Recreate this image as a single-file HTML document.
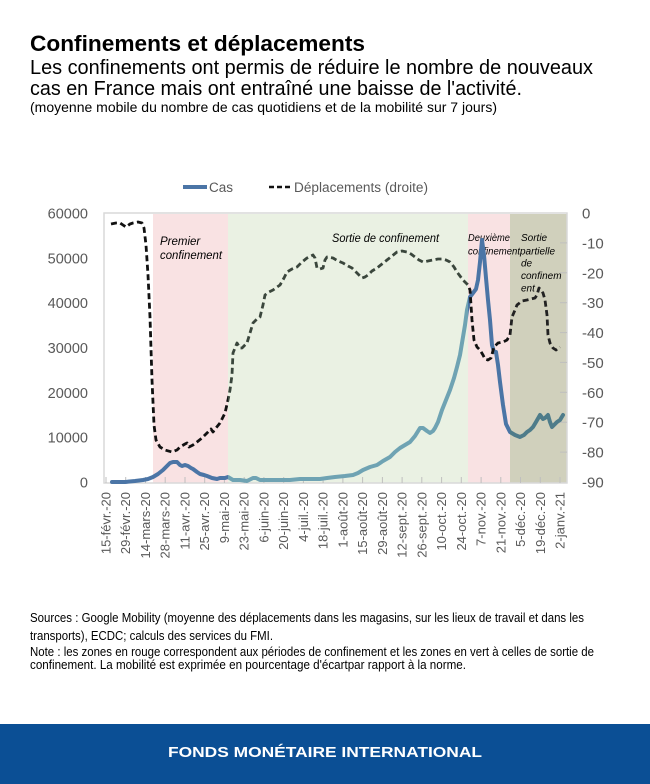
<!DOCTYPE html>
<html>
<head>
<meta charset="utf-8">
<style>
  html,body{margin:0;padding:0;background:#fff;}
  svg{display:block;}
  text{font-family:"Liberation Sans", sans-serif;}
</style>
</head>
<body>
<svg width="650" height="784" viewBox="0 0 650 784" xmlns="http://www.w3.org/2000/svg">
  <defs>
    <clipPath id="cA"><rect x="0" y="200" width="228" height="300"/><rect x="468" y="200" width="42" height="300"/></clipPath>
    <clipPath id="cG"><rect x="228" y="200" width="240" height="300"/></clipPath>
    <clipPath id="cY"><rect x="510" y="200" width="140" height="300"/></clipPath>
    <path id="casPath" d="M112,482 L125,482 L135,481 L143,480 L148,479 L153,477 L158,474 L163,470 L167,466 L170,463 L173,462 L177,462 L180,465 L182,466 L185,465 L188,466 L191,468 L193,469 L197,472 L200,474 L204,475 L207,476 L212,478 L217,479 L220,478 L225,478 L228,477 L233,480 L240,480 L247,481 L253,478 L256,478 L260,480 L270,480 L280,480 L290,480 L300,479 L310,479 L320,479 L327,478 L335,477 L345,476 L353,475 L358,473 L363,470 L370,467 L377,465 L383,461 L390,457 L395,452 L400,448 L405,445 L410,442 L415,436 L420,428 L423,428 L427,431 L430,433 L433,431 L435,428 L438,422 L442,410 L446,400 L450,390 L454,378 L457,367 L460,355 L462,343 L465,325 L467,310 L470,297 L473,293 L476,289 L478,280 L480,262 L482,240 L484,255 L486,278 L488,300 L490,320 L492,345 L494,352 L496,352 L498,365 L500,382 L503,405 L506,424 L510,432 L515,435 L520,437 L524,435 L527,432 L530,430 L533,427 L536,422 L540,415 L543,419 L545,418 L548,415 L550,422 L552,427 L555,424 L557,422 L560,420 L563,415"/>
    <path id="mobPath" d="M111,224 L116,223 L120,223 L123,225 L126,227 L130,224 L133,223 L138,222 L142,223 L144,228 L146,245 L148,275 L150,317 L152,380 L154,425 L156,440 L160,447 L165,450 L172,452 L177,450 L180,447 L185,444 L187,443 L189,447 L193,445 L197,442 L202,438 L207,433 L211,429 L213,432 L216,428 L220,423 L225,413 L228,400 L230,390 L232,375 L233,353 L237,343 L240,348 L242,348 L247,343 L250,333 L253,323 L257,319 L260,317 L263,305 L265,295 L269,292 L273,290 L280,285 L284,278 L287,272 L292,269 L297,267 L302,262 L307,258 L313,255 L315,258 L317,268 L320,269 L323,268 L325,260 L327,257 L333,258 L338,261 L343,263 L348,266 L352,268 L357,273 L362,278 L365,277 L368,275 L372,271 L377,268 L382,264 L387,260 L392,256 L397,252 L402,251 L407,252 L411,254 L415,257 L419,260 L423,262 L428,261 L433,260 L438,259 L442,259 L446,260 L450,262 L454,267 L457,272 L460,276 L463,280 L466,283 L468,285 L470,290 L471,305 L472,320 L474,340 L477,347 L480,350 L483,355 L485,359 L488,360 L491,358 L494,347 L498,343 L503,342 L507,340 L510,335 L512,317 L515,310 L517,305 L522,301 L527,300 L531,299 L535,298 L537,295 L539,288 L541,290 L543,293 L545,300 L547,315 L548,335 L550,343 L553,348 L556,350 L560,347"/>
  </defs>

  <!-- Titles -->
  <text x="30" y="51" font-size="22.5" font-weight="bold" fill="#000" textLength="335" lengthAdjust="spacingAndGlyphs">Confinements et déplacements</text>
  <text x="30" y="74" font-size="20" fill="#000" textLength="563" lengthAdjust="spacingAndGlyphs">Les confinements ont permis de réduire le nombre de nouveaux</text>
  <text x="30" y="95" font-size="20" fill="#000" textLength="492" lengthAdjust="spacingAndGlyphs">cas en France mais ont entraîné une baisse de l'activité.</text>
  <text x="30" y="112" font-size="14" fill="#000" textLength="467" lengthAdjust="spacingAndGlyphs">(moyenne mobile du nombre de cas quotidiens et de la mobilité sur 7 jours)</text>

  <!-- Legend -->
  <line x1="183" y1="187" x2="207" y2="187" stroke="#4b75a6" stroke-width="4"/>
  <text x="209" y="192" font-size="13.5" fill="#595959">Cas</text>
  <line x1="269" y1="187" x2="293" y2="187" stroke="#111" stroke-width="2.6" stroke-dasharray="5 3"/>
  <text x="294" y="192" font-size="13.5" fill="#595959" textLength="134" lengthAdjust="spacingAndGlyphs">Déplacements (droite)</text>

  <!-- Shaded regions -->
  <rect x="153" y="214" width="75" height="269" fill="#f9e2e3"/>
  <rect x="228" y="214" width="240" height="269" fill="#eaf1e3"/>
  <rect x="468" y="214" width="42" height="269" fill="#f9e2e3"/>
  <rect x="510" y="214" width="57" height="269" fill="#d0d0bc"/>

  <!-- Plot border -->
  <rect x="104" y="213" width="463" height="270" fill="none" stroke="#d9d9d9" stroke-width="1.5"/>

  <!-- Right axis ticks -->
  <g stroke="#bfbfbf" stroke-width="1">
    <line x1="560" y1="242.9" x2="567" y2="242.9"/>
    <line x1="560" y1="272.8" x2="567" y2="272.8"/>
    <line x1="560" y1="302.7" x2="567" y2="302.7"/>
    <line x1="560" y1="332.6" x2="567" y2="332.6"/>
    <line x1="560" y1="362.4" x2="567" y2="362.4"/>
    <line x1="560" y1="392.3" x2="567" y2="392.3"/>
    <line x1="560" y1="422.2" x2="567" y2="422.2"/>
    <line x1="560" y1="452.1" x2="567" y2="452.1"/>
  </g>

  <!-- X ticks -->
  <g stroke="#bfbfbf" stroke-width="1">
    <line x1="106" y1="477" x2="106" y2="483"/><line x1="125.7" y1="477" x2="125.7" y2="483"/>
    <line x1="145.5" y1="477" x2="145.5" y2="483"/><line x1="165.2" y1="477" x2="165.2" y2="483"/>
    <line x1="185" y1="477" x2="185" y2="483"/><line x1="204.7" y1="477" x2="204.7" y2="483"/>
    <line x1="224.4" y1="477" x2="224.4" y2="483"/><line x1="244.2" y1="477" x2="244.2" y2="483"/>
    <line x1="263.9" y1="477" x2="263.9" y2="483"/><line x1="283.7" y1="477" x2="283.7" y2="483"/>
    <line x1="303.4" y1="477" x2="303.4" y2="483"/><line x1="323.1" y1="477" x2="323.1" y2="483"/>
    <line x1="342.9" y1="477" x2="342.9" y2="483"/><line x1="362.6" y1="477" x2="362.6" y2="483"/>
    <line x1="382.4" y1="477" x2="382.4" y2="483"/><line x1="402.1" y1="477" x2="402.1" y2="483"/>
    <line x1="421.8" y1="477" x2="421.8" y2="483"/><line x1="441.6" y1="477" x2="441.6" y2="483"/>
    <line x1="461.3" y1="477" x2="461.3" y2="483"/><line x1="481.1" y1="477" x2="481.1" y2="483"/>
    <line x1="500.8" y1="477" x2="500.8" y2="483"/><line x1="520.5" y1="477" x2="520.5" y2="483"/>
    <line x1="540.3" y1="477" x2="540.3" y2="483"/><line x1="560" y1="477" x2="560" y2="483"/>
  </g>

  <!-- Annotations -->
  <g font-style="italic" fill="#000">
    <text x="160" y="245" font-size="11.5">Premier</text>
    <text x="160" y="259" font-size="11.5" textLength="62" lengthAdjust="spacingAndGlyphs">confinement</text>
    <text x="332" y="242" font-size="11.5" textLength="107" lengthAdjust="spacingAndGlyphs">Sortie de confinement</text>
    <text x="468" y="241" font-size="10" textLength="42" lengthAdjust="spacingAndGlyphs">Deuxième</text>
    <text x="468" y="254.5" font-size="10" textLength="52" lengthAdjust="spacingAndGlyphs">confinement</text>
    <text x="521" y="241" font-size="10">Sortie</text>
    <text x="520" y="254.5" font-size="10">partielle</text>
    <text x="521" y="266.5" font-size="10">de</text>
    <text x="521" y="279" font-size="10">confinem</text>
    <text x="521" y="291.5" font-size="10">ent</text>
  </g>

  <!-- Series: Cas -->
  <g fill="none" stroke-width="4" stroke-linejoin="round" stroke-linecap="round">
    <g clip-path="url(#cA)"><use href="#casPath" stroke="#4b75a6"/></g>
    <g clip-path="url(#cG)"><use href="#casPath" stroke="#6fa3b3"/></g>
    <g clip-path="url(#cY)"><use href="#casPath" stroke="#4e7c8a"/></g>
  </g>

  <!-- Series: Déplacements -->
  <g fill="none" stroke-width="2.8" stroke-dasharray="6 3.5" stroke-linejoin="round">
    <g clip-path="url(#cA)"><use href="#mobPath" stroke="#111"/></g>
    <g clip-path="url(#cG)"><use href="#mobPath" stroke="#3a463c"/></g>
    <g clip-path="url(#cY)"><use href="#mobPath" stroke="#222"/></g>
  </g>

  <!-- Left axis labels -->
  <g font-size="14.5" fill="#595959" text-anchor="end">
    <text x="88" y="218.5">60000</text>
    <text x="88" y="263.3">50000</text>
    <text x="88" y="308.2">40000</text>
    <text x="88" y="353">30000</text>
    <text x="88" y="397.8">20000</text>
    <text x="88" y="442.7">10000</text>
    <text x="88" y="487.5">0</text>
  </g>

  <!-- Right axis labels -->
  <g font-size="15" fill="#595959">
    <text x="582" y="218.5">0</text>
    <text x="582" y="248.4">-10</text>
    <text x="582" y="278.3">-20</text>
    <text x="582" y="308.2">-30</text>
    <text x="582" y="338.1">-40</text>
    <text x="582" y="367.9">-50</text>
    <text x="582" y="397.8">-60</text>
    <text x="582" y="427.7">-70</text>
    <text x="582" y="457.6">-80</text>
    <text x="582" y="487.5">-90</text>
  </g>

  <!-- X labels -->
  <g font-size="13" fill="#595959" text-anchor="end">
    <text transform="translate(110.5,492) rotate(-90)">15-févr.-20</text>
    <text transform="translate(130.2,492) rotate(-90)">29-févr.-20</text>
    <text transform="translate(150,492) rotate(-90)">14-mars-20</text>
    <text transform="translate(169.7,492) rotate(-90)">28-mars-20</text>
    <text transform="translate(189.5,492) rotate(-90)">11-avr.-20</text>
    <text transform="translate(209.2,492) rotate(-90)">25-avr.-20</text>
    <text transform="translate(228.9,492) rotate(-90)">9-mai-20</text>
    <text transform="translate(248.7,492) rotate(-90)">23-mai-20</text>
    <text transform="translate(268.4,492) rotate(-90)">6-juin-20</text>
    <text transform="translate(288.2,492) rotate(-90)">20-juin-20</text>
    <text transform="translate(307.9,492) rotate(-90)">4-juil.-20</text>
    <text transform="translate(327.6,492) rotate(-90)">18-juil.-20</text>
    <text transform="translate(347.4,492) rotate(-90)">1-août-20</text>
    <text transform="translate(367.1,492) rotate(-90)">15-août-20</text>
    <text transform="translate(386.9,492) rotate(-90)">29-août-20</text>
    <text transform="translate(406.6,492) rotate(-90)">12-sept.-20</text>
    <text transform="translate(426.3,492) rotate(-90)">26-sept.-20</text>
    <text transform="translate(446.1,492) rotate(-90)">10-oct.-20</text>
    <text transform="translate(465.8,492) rotate(-90)">24-oct.-20</text>
    <text transform="translate(485.6,492) rotate(-90)">7-nov.-20</text>
    <text transform="translate(505.3,492) rotate(-90)">21-nov.-20</text>
    <text transform="translate(525,492) rotate(-90)">5-déc.-20</text>
    <text transform="translate(544.8,492) rotate(-90)">19-déc.-20</text>
    <text transform="translate(564.5,492) rotate(-90)">2-janv.-21</text>
  </g>

  <!-- Footnotes -->
  <g font-size="12.5" fill="#000">
    <text x="30" y="622" textLength="554" lengthAdjust="spacingAndGlyphs">Sources : Google Mobility (moyenne des déplacements dans les magasins, sur les lieux de travail et dans les</text>
    <text x="30" y="640" textLength="243" lengthAdjust="spacingAndGlyphs">transports), ECDC; calculs des services du FMI.</text>
    <text x="30" y="656" textLength="564" lengthAdjust="spacingAndGlyphs">Note : les zones en rouge correspondent aux périodes de confinement et les zones en vert à celles de sortie de</text>
    <text x="30" y="669" textLength="436" lengthAdjust="spacingAndGlyphs">confinement. La mobilité est exprimée en pourcentage d'écartpar rapport à la norme.</text>
  </g>

  <!-- Footer -->
  <rect x="0" y="724" width="650" height="60" fill="#0b4f95"/>
  <text x="168" y="757" font-size="14.5" font-weight="bold" fill="#ffffff" textLength="314" lengthAdjust="spacingAndGlyphs">FONDS MONÉTAIRE INTERNATIONAL</text>
</svg>
</body>
</html>
